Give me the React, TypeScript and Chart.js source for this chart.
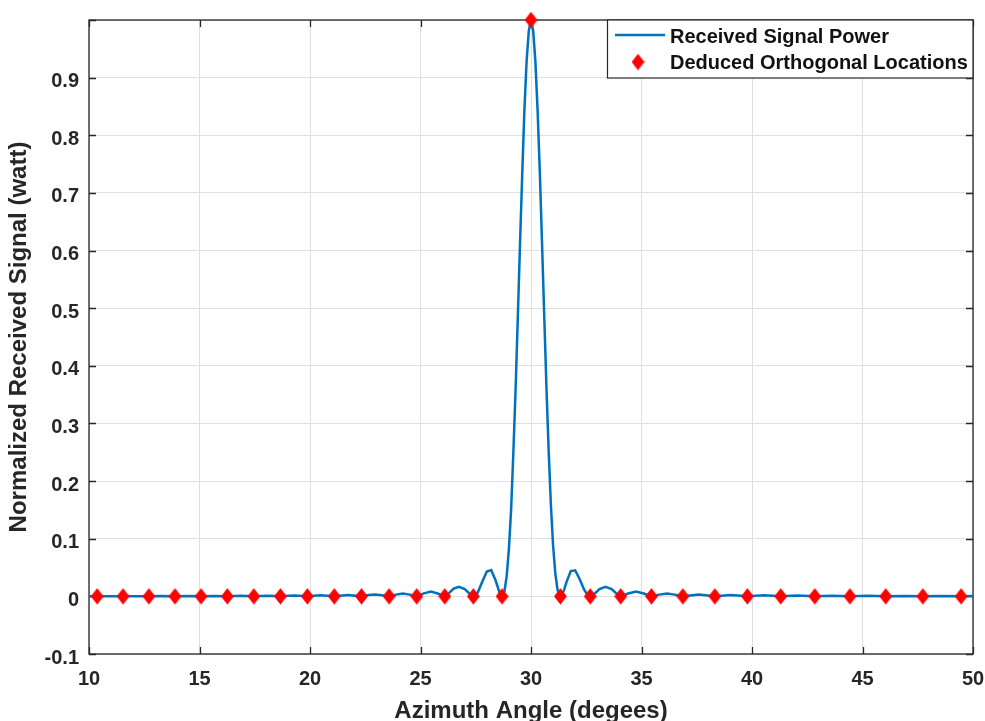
import React, { useEffect, useRef } from 'react';
import { Chart, registerables } from 'chart.js';

Chart.register(...registerables);

// ---- data ----
const angleDeg = [
  10.0, 10.37, 10.95, 11.54, 12.12, 12.71, 13.3, 13.89, 14.48, 15.07, 15.66, 16.26, 16.86, 17.46,
  18.06, 18.66, 19.27, 19.88, 20.49, 21.1, 21.72, 22.33, 22.64, 22.95, 23.26, 23.58, 23.89, 24.2,
  24.52, 24.83, 25.15, 25.47, 25.78, 26.1, 26.3, 26.5, 26.74, 27.0, 27.2, 27.39, 27.45, 27.6, 27.8,
  28.0, 28.2, 28.4, 28.6, 28.69, 28.8, 28.9, 29.0, 29.1, 29.2, 29.3, 29.4, 29.5, 29.6, 29.7, 29.8,
  29.9, 30.0, 30.1, 30.2, 30.3, 30.4, 30.5, 30.6, 30.7, 30.8, 30.9, 31.0, 31.1, 31.2, 31.3, 31.33,
  31.4, 31.5, 31.6, 31.8, 32.0, 32.2, 32.4, 32.55, 32.68, 32.9, 33.1, 33.37, 33.65, 33.85, 34.06,
  34.4, 34.75, 35.1, 35.45, 35.8, 36.16, 36.5, 36.87, 37.59, 38.32, 39.05, 39.79, 40.54, 41.3,
  42.07, 42.84, 43.63, 44.43, 45.23, 46.05, 46.89, 47.73, 48.59, 49.46, 50.0,
];
const powerNorm = [
  0.0003, 0, 0.0004, 0, 0.0004, 0, 0.0005, 0, 0.0006, 0, 0.0007, 0, 0.0009, 0,
  0.0011, 0, 0.0014, 0, 0.0018, 0, 0.0024, 0, 0.0022, 0.0034, 0.0021, 0, 0.003, 0.0049,
  0.003, 0, 0.0052, 0.0083, 0.005, 0, 0.006, 0.0135, 0.0165, 0.0125, 0.0055, 0, 0.0006, 0.0074, 0.0257,
  0.0431, 0.0458, 0.0275, 0.0037, 0, 0.0089, 0.0352, 0.082, 0.15, 0.248, 0.356, 0.48, 0.608, 0.729, 0.842, 0.928,
  0.981, 1.0, 0.981, 0.927, 0.842, 0.735, 0.612, 0.485, 0.362, 0.252, 0.159, 0.088, 0.04, 0.0115, 0.0006, 0,
  0.0023, 0.0117, 0.0243, 0.0438, 0.0452, 0.0301, 0.0119, 0.0026, 0, 0.0055, 0.0125, 0.0165, 0.0125, 0.0055, 0,
  0.005, 0.0083, 0.005, 0, 0.003, 0.0049, 0.003, 0, 0.0034, 0, 0.0024, 0, 0.0018, 0,
  0.0014, 0, 0.0011, 0, 0.0009, 0, 0.00075, 0, 0.0006, 0, 0.0005,
];
const nullAngles = [
  10.37, 11.54, 12.71, 13.89, 15.07, 16.26, 17.46, 18.66, 19.88, 21.1, 22.33, 23.58, 24.83, 26.1,
  27.39, 28.69, 30.0, 31.33, 32.68, 34.06, 35.45, 36.87, 38.32, 39.79, 41.3, 42.84, 44.43, 46.05,
  47.73, 49.46,
];
const nullPower = [
  0, 0, 0, 0, 0, 0, 0, 0, 0, 0, 0, 0, 0, 0,
  0, 0, 1.0, 0, 0, 0, 0, 0, 0, 0, 0, 0, 0, 0,
  0, 0,
];
const xRange = [10, 50];
const xStep = 5;
const yRange = [-0.1, 1.0];
const yStep = 0.1;
const seriesNames = ['Received Signal Power', 'Deduced Orthogonal Locations'];
const xTitle = 'Azimuth Angle (degees)';
const yTitle = 'Normalized Received Signal (watt)';

const FONT = '"Liberation Sans", Arial, Helvetica, sans-serif';
const AXIS = '#262626';
const BLUE = '#0072BD';
const RED = '#ff0000';

function makeDiamond(): HTMLCanvasElement {
  const c = document.createElement('canvas');
  c.width = 13;
  c.height = 17;
  const g = c.getContext('2d')!;
  g.fillStyle = RED;
  g.beginPath();
  g.moveTo(6.5, 0.2);
  g.lineTo(12.9, 8.5);
  g.lineTo(6.5, 16.8);
  g.lineTo(0.1, 8.5);
  g.closePath();
  g.fill();
  return c;
}

export default function App() {
  const ref = useRef<HTMLCanvasElement | null>(null);

  useEffect(() => {
    document.body.style.margin = '0';
    const canvas = ref.current!;
    const diamond = makeDiamond();

    const framePlugin = {
      id: 'frame',
      beforeDatasetsDraw(chart: any) {
        const { ctx, chartArea: a, scales } = chart;
        ctx.save();
        ctx.strokeStyle = AXIS;
        ctx.lineWidth = 1.3;
        ctx.strokeRect(a.left, a.top, a.right - a.left, a.bottom - a.top);
        const tl = 7;
        ctx.beginPath();
        scales.x.ticks.forEach((t: any) => {
          const px = Math.round(scales.x.getPixelForValue(t.value)) + 0.5;
          ctx.moveTo(px, a.bottom);
          ctx.lineTo(px, a.bottom - tl);
          ctx.moveTo(px, a.top);
          ctx.lineTo(px, a.top + tl);
        });
        scales.y.ticks.forEach((t: any) => {
          const py = Math.round(scales.y.getPixelForValue(t.value)) + 0.5;
          ctx.moveTo(a.left, py);
          ctx.lineTo(a.left + tl, py);
          ctx.moveTo(a.right, py);
          ctx.lineTo(a.right - tl, py);
        });
        ctx.stroke();
        ctx.restore();
      },
      afterDraw(chart: any) {
        const { ctx, chartArea: a } = chart;
        const bx = 607;
        const by = a.top;
        const bw = a.right - bx;
        const bh = 58;
        ctx.save();
        ctx.fillStyle = '#ffffff';
        ctx.fillRect(bx, by, bw, bh);
        ctx.strokeStyle = AXIS;
        ctx.lineWidth = 1.2;
        ctx.strokeRect(bx + 0.5, by, bw - 0.5, bh);
        ctx.strokeStyle = BLUE;
        ctx.lineWidth = 2.5;
        ctx.beginPath();
        ctx.moveTo(615, by + 15);
        ctx.lineTo(665, by + 15);
        ctx.stroke();
        ctx.drawImage(diamond, 638 - 6.5, by + 42 - 8.5);
        ctx.fillStyle = '#111111';
        ctx.font = `bold 20px ${FONT}`;
        ctx.textBaseline = 'middle';
        ctx.textAlign = 'left';
        ctx.fillText(seriesNames[0], 670, by + 17);
        ctx.fillText(seriesNames[1], 670, by + 43);
        ctx.restore();
      },
    };

    const chart = new Chart(canvas, {
      type: 'line',
      data: {
        datasets: [
          {
            label: seriesNames[1],
            data: nullAngles.map((x, i) => ({ x, y: nullPower[i] })),
            showLine: false,
            pointStyle: diamond as any,
            pointRadius: 8,
            backgroundColor: RED,
            borderColor: RED,
            clip: false as any,
            order: 0,
          },
          {
            label: seriesNames[0],
            data: angleDeg.map((x, i) => ({ x, y: powerNorm[i] })),
            borderColor: BLUE,
            borderWidth: 2.5,
            pointRadius: 0,
            tension: 0,
            fill: false,
            order: 1,
          },
        ],
      },
      options: {
        animation: false,
        responsive: false,
        maintainAspectRatio: false,
        devicePixelRatio: 1,
        layout: { padding: { top: 20, right: 12, left: 0, bottom: 0 } },
        plugins: {
          legend: { display: false },
          tooltip: { enabled: false },
        },
        scales: {
          x: {
            type: 'linear',
            min: xRange[0],
            max: xRange[1],
            ticks: {
              stepSize: xStep,
              padding: 13,
              maxRotation: 0,
              autoSkip: false,
              color: AXIS,
              font: { family: FONT, size: 20, weight: 'bold', lineHeight: 1.2 },
              callback: (v: any) => String(Math.round(Number(v))),
            },
            grid: { color: '#dfdfdf', lineWidth: 1, drawTicks: false },
            border: { display: false },
            title: {
              display: true,
              text: xTitle,
              color: AXIS,
              font: { family: FONT, size: 24, weight: 'bold', lineHeight: 0.8 },
              padding: 0,
            },
            afterFit: (s: any) => {
              s.height = 67;
              s.paddingLeft = 0;
              s.paddingRight = 0;
            },
          },
          y: {
            type: 'linear',
            min: yRange[0],
            max: yRange[1],
            ticks: {
              stepSize: yStep,
              padding: 10,
              labelOffset: 4,
              color: AXIS,
              font: { family: FONT, size: 20, weight: 'bold', lineHeight: 1.2 },
              callback: (v: any) => {
                const r = Math.round(Number(v) * 10) / 10;
                return r >= 1 ? '' : String(r);
              },
            },
            grid: { color: '#dfdfdf', lineWidth: 1, drawTicks: false },
            border: { display: false },
            title: {
              display: true,
              text: yTitle,
              color: AXIS,
              font: { family: FONT, size: 24, weight: 'bold', lineHeight: 0.8 },
              padding: { top: 10, bottom: 0 },
            },
            afterFit: (s: any) => {
              s.width = 89;
              s.paddingTop = 0;
              s.paddingBottom = 0;
            },
          },
        },
      } as any,
      plugins: [framePlugin],
    });

    return () => chart.destroy();
  }, []);

  return (
    <div style={{ width: 985, height: 721, overflow: 'hidden' }}>
      <canvas ref={ref} width={985} height={721} style={{ display: 'block' }} />
    </div>
  );
}
